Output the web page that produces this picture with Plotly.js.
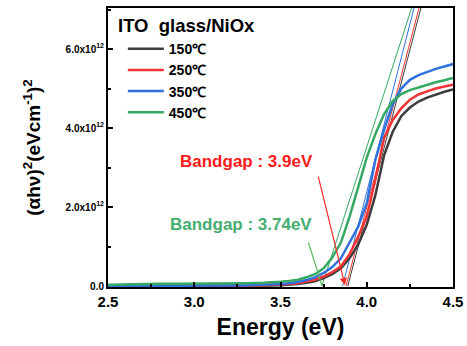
<!DOCTYPE html>
<html><head><meta charset="utf-8">
<script src="https://cdn.plot.ly/plotly-3.0.1.min.js"></script>
<style>html,body{margin:0;padding:0;background:#fff}#chart{width:467px;height:346px}</style>
</head><body><div id="chart"></div>
<script>
// Energy (eV)
const energy = [2.5,2.6,2.7,2.8,2.9,3.0,3.1,3.2,3.3,3.4,3.45,3.5,3.55,3.6,3.65,3.7,3.75,3.8,3.85,3.9,3.95,4.0,4.05,4.1,4.15,4.2,4.25,4.3,4.35,4.4,4.45,4.5];
// (ahv)^2 in units of 1e12 (eVcm^-1)^2
const s150 = [0.0,0.0,0.0,0.0,0.0,0.0,0.0,0.0,0.01,0.01,0.015,0.02,0.03,0.05,0.08,0.12,0.2,0.3,0.45,0.7,1.05,1.55,2.3,3.3,3.9,4.3,4.52,4.67,4.77,4.85,4.92,4.98];
const s250 = [0.0,0.0,0.0,0.0,0.0,0.0,0.0,0.01,0.01,0.02,0.025,0.03,0.05,0.07,0.11,0.16,0.24,0.35,0.5,0.8,1.25,1.75,2.7,3.75,4.2,4.5,4.72,4.85,4.93,5.0,5.05,5.1];
const s350 = [0.0,0.0,0.01,0.01,0.01,0.01,0.01,0.01,0.02,0.03,0.04,0.05,0.07,0.1,0.15,0.22,0.33,0.48,0.7,1.1,1.5,2.1,3.2,3.95,4.6,5.0,5.22,5.34,5.43,5.5,5.56,5.62];
const s450 = [0.03,0.04,0.06,0.06,0.06,0.06,0.06,0.06,0.07,0.08,0.09,0.11,0.13,0.16,0.22,0.3,0.45,0.72,1.1,1.75,2.5,3.25,3.85,4.35,4.68,4.86,4.96,5.03,5.1,5.16,5.21,5.27];
const seriesNames = ['150℃','250℃','350℃','450℃'];
const seriesColors = ['#3c3c3c','#f23434','#2f72dc','#35a862'];
// Tangent (linear fit) lines: [x-intercept, x at top], [y at intercept, y at top]
const tan150X = [3.89, 4.314], tan250X = [3.88, 4.303], tan350X = [3.86, 4.274], tan450X = [3.74, 4.26];
const tanY = [0, 7.04];
// Bandgap annotations
const legendTitle = 'ITO  glass/NiOx';
const bandgapLabels = ['Bandgap : 3.9eV', 'Bandgap : 3.74eV'];
const labelPos = [[3.3, 3.15], [3.27, 1.55]];
const arrowTail = [[3.717, 2.81], [3.659, 1.14]];
const arrowHead = [[3.874, 0.02], [3.741, 0.0]];
const yTickVals = [0, 2, 4, 6];
const yTickText = ['0.0', '2.0x10<sup>12</sup>', '4.0x10<sup>12</sup>', '6.0x10<sup>12</sup>'];

const FONT = 'Liberation Sans, Arial, sans-serif';
const series = [s150, s250, s350, s450];
const tans = [tan150X, tan250X, tan350X, tan450X];
const traces = [];
tans.forEach((tx, i) => traces.push({x: tx, y: tanY, mode: 'lines', showlegend: false, hoverinfo: 'skip',
  line: {color: seriesColors[i], width: 1}}));
series.forEach((s, i) => traces.push({x: energy, y: s, name: seriesNames[i], mode: 'lines',
  line: {color: seriesColors[i], width: 2.5}}));

const annotations = [
  {xref: 'paper', yref: 'paper', x: 0.023, y: 0.936, xanchor: 'left', yanchor: 'middle',
   text: '<b>' + legendTitle.replace('  ', '&nbsp; ') + '</b>', showarrow: false,
   font: {family: FONT, size: 18.5, color: '#000'}},
  {x: labelPos[0][0], y: labelPos[0][1], text: '<b>' + bandgapLabels[0] + '</b>', showarrow: false,
   font: {family: FONT, size: 17, color: '#ff1a1a'}},
  {x: labelPos[1][0], y: labelPos[1][1], text: '<b>' + bandgapLabels[1] + '</b>', showarrow: false,
   font: {family: FONT, size: 17, color: '#45ad70'}},
  {x: arrowHead[0][0], y: arrowHead[0][1], ax: arrowTail[0][0], ay: arrowTail[0][1], axref: 'x', ayref: 'y',
   text: '', showarrow: true, arrowhead: 2, arrowsize: 1.2, arrowwidth: 1.2, arrowcolor: '#ff2a2a', standoff: 0, startstandoff: 0},
  {x: arrowHead[1][0], y: arrowHead[1][1], ax: arrowTail[1][0], ay: arrowTail[1][1], axref: 'x', ayref: 'y',
   text: '', showarrow: true, arrowhead: 0, arrowwidth: 1.2, arrowcolor: '#5cb860', standoff: 0, startstandoff: 0}
];

const layout = {
  width: 467, height: 346,
  margin: {l: 108, r: 14, t: 8, b: 59},
  paper_bgcolor: '#fff', plot_bgcolor: '#fff',
  font: {family: FONT, color: '#000'},
  showlegend: true,
  legend: {x: 0.043, y: 0.91, xanchor: 'left', yanchor: 'top', bgcolor: 'rgba(0,0,0,0)',
    font: {family: FONT, size: 14, color: '#000', weight: 'bold'}, itemwidth: 36, tracegroupgap: 0},
  xaxis: {range: [2.5, 4.5], tickmode: 'linear', tick0: 2.5, dtick: 0.5, tickformat: '.1f',
    ticks: 'inside', ticklen: 5, tickwidth: 2, tickcolor: '#000',
    showline: true, linewidth: 2, linecolor: '#000', mirror: true, showgrid: false, zeroline: false,
    tickfont: {family: FONT, size: 15, color: '#000', weight: 'bold'},
    minor: {tickmode: 'linear', tick0: 2.5, dtick: 0.25, ticks: 'inside', ticklen: 3, tickwidth: 2, tickcolor: '#000', showgrid: false},
    title: {text: '<b>Energy (eV)</b>', font: {family: FONT, size: 23, color: '#000'}, standoff: 10}},
  yaxis: {range: [-0.025, 7.04], tickmode: 'array', tickvals: yTickVals, ticktext: yTickText,
    ticks: 'inside', ticklen: 5, tickwidth: 2, tickcolor: '#000',
    showline: true, linewidth: 2, linecolor: '#000', mirror: true, showgrid: false, zeroline: false,
    tickfont: {family: FONT, size: 10, color: '#000', weight: 'bold'},
    minor: {tickmode: 'linear', tick0: 0, dtick: 1, ticks: 'inside', ticklen: 3, tickwidth: 2, tickcolor: '#000', showgrid: false},
    title: {text: '<b>(αhν)<sup>2</sup>(eVcm<sup>-1</sup>)<sup>2</sup></b>', font: {family: FONT, size: 19, color: '#000'}, standoff: 20}},
  annotations: annotations
};
Plotly.newPlot('chart', traces, layout, {staticPlot: true, displayModeBar: false});
</script></body></html>
